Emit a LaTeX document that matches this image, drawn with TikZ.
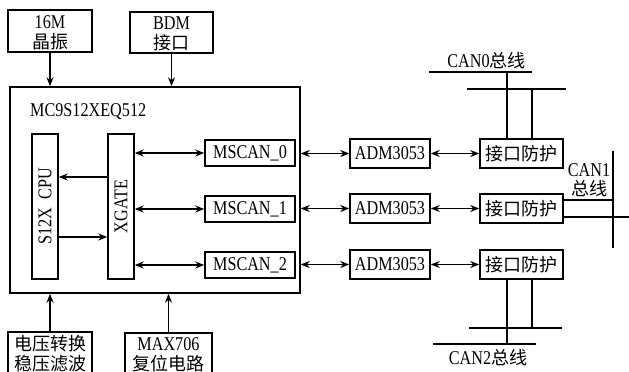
\documentclass[tikz,border=0pt]{standalone}
\usepackage{fontspec}
\setmainfont{Liberation Serif}[FakeStretch=0.83]
\newfontfamily\cjk{Noto Sans CJK SC}
\usetikzlibrary{arrows.meta,calc}
\tikzset{
  blk/.style={draw, line width=1.5pt, inner sep=0pt, align=center, font=\fontsize{19.5}{19}\selectfont},
  arr/.style={line width=1.4pt, -{Stealth[length=9pt,width=7pt]}},
  darr/.style={line width=1.4pt, {Stealth[length=9pt,width=7pt]}-{Stealth[length=9pt,width=7pt]}},
  bus/.style={line width=1.5pt},
  lbl/.style={inner sep=0pt, font=\fontsize{19.5}{19}\selectfont, align=center}
}
\newcommand{\zh}[1]{{\cjk\fontsize{18}{19}\selectfont #1}}
\begin{document}
\begin{tikzpicture}[x=1pt,y=-1pt]
\useasboundingbox (0,0) rectangle (629,372);
% top boxes
\node[blk, minimum width=84, minimum height=42] (osc) at (50,31) {};
\node[lbl] (osct1) at (50,22) {16M};
\node[lbl] (osct2) at (50,42) {\zh{晶振}};
\node[blk, minimum width=83, minimum height=41] (bdm) at (171.5,32.5) {};
\node[lbl] (bdmt1) at (171.5,23) {BDM};
\node[lbl] (bdmt2) at (171.5,43) {\zh{接口}};
% MCU
\node[blk, minimum width=290, minimum height=206] (mcu) at (155,190) {};
\node[lbl, anchor=west] (mcul) at (30,112) {MC9S12XEQ512};
\node[blk, minimum width=26, minimum height=145] (cpu) at (45,206.5) {};
\node[lbl, rotate=90] (cput) at (cpu.center) {S12X\ \ CPU};
\node[blk, minimum width=26, minimum height=145] (xg) at (121,206.5) {};
\node[lbl, rotate=90] (xgt) at (xg.center) {XGATE};
\node[blk, minimum width=90, minimum height=26] (ms0) at (250,153) {MSCAN\_0};
\node[blk, minimum width=90, minimum height=26] (ms1) at (250,209) {MSCAN\_1};
\node[blk, minimum width=90, minimum height=26] (ms2) at (250,265) {MSCAN\_2};
% transceivers
\node[blk, minimum width=80, minimum height=29] (adm0) at (390,153.5) {ADM3053};
\node[blk, minimum width=80, minimum height=29] (adm1) at (390,208.5) {ADM3053};
\node[blk, minimum width=80, minimum height=29] (adm2) at (390,264.5) {ADM3053};
\node[blk, minimum width=83, minimum height=29] (pr0) at (521.5,153.5) {\zh{接口防护}};
\node[blk, minimum width=83, minimum height=29] (pr1) at (521.5,208.5) {\zh{接口防护}};
\node[blk, minimum width=83, minimum height=29] (pr2) at (521.5,264.5) {\zh{接口防护}};
% bottom boxes (cut by page edge)
\coordinate (pwrtop) at (50,332);
\coordinate (rsttop) at (168.5,333);
\draw[line width=1.5pt] (8,380) -- (8,332) -- (92,332) -- (92,380);
\draw[line width=1.5pt] (125,380) -- (125,333) -- (212,333) -- (212,380);
\node[lbl] (pwrt1) at (50,344) {\zh{电压转换}};
\node[lbl] (pwrt2) at (50,364) {\zh{稳压滤波}};
\node[lbl] (rstt1) at (168.5,344) {MAX706};
\node[lbl] (rstt2) at (168.5,364) {\zh{复位电路}};
% arrows top
\draw[arr] (osc.south) -- (osc.south |- mcu.north);
\draw[arr] (bdm.south) -- (bdm.south |- mcu.north);
\draw[arr] (pwrtop) -- (pwrtop |- mcu.south);
\draw[arr] (rsttop) -- (rsttop |- mcu.south);
% cpu / xgate
\draw[arr] (xg.west |- 0,177) -- (cpu.east |- 0,177);
\draw[arr] (cpu.east |- 0,237) -- (xg.west |- 0,237);
\foreach \i in {0,1,2}{
  \draw[darr] (xg.east |- ms\i) -- (ms\i.west);
  \draw[darr] (mcu.east |- adm\i) -- (adm\i.west);
  \draw[darr] (adm\i.east) -- (pr\i.west);
}
% CAN0 bus
\coordinate (c0a) at (429,72);
\coordinate (c0b) at (532,72);
\coordinate (c0c) at (467,89);
\coordinate (c0d) at (566,89);
\draw[bus] (c0a) -- (c0b);
\draw[bus] (c0c) -- (c0d);
\draw[bus] (pr0.north -| 507,0) -- (507,72);
\draw[bus] (pr0.north -| 532,0) -- (532,89);
\node[lbl] (can0) at (486.5,61) {CAN0\zh{总线}};
% CAN1 bus
\coordinate (c1a) at (613,151);
\coordinate (c1b) at (613,248);
\draw[bus] (c1a) -- (c1b);
\draw[bus] (pr1.east |- 0,200) -- (613,200);
\draw[bus] (pr1.east |- 0,217) -- (629,217);
\node[lbl] (can1a) at (589,170) {CAN1};
\node[lbl] (can1b) at (589,189) {\zh{总线}};
% CAN2 bus
\draw[bus] (469,328) -- (562,328);
\draw[bus] (433,344) -- (536,344);
\draw[bus] (pr2.south -| 507,0) -- (507,344);
\draw[bus] (pr2.south -| 532,0) -- (532,328);
\node[lbl] (can2) at (488,358) {CAN2\zh{总线}};
\end{tikzpicture}
\end{document}
